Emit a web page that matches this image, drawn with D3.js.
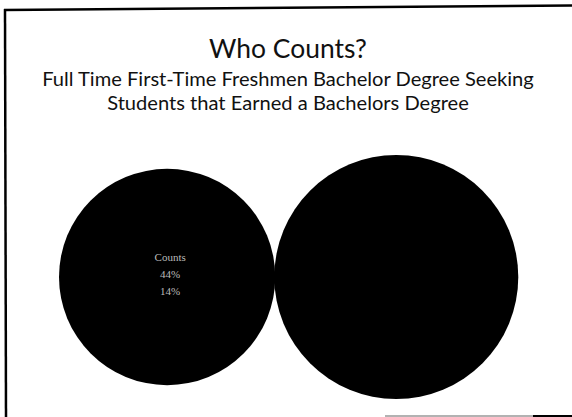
<!DOCTYPE html>
<html>
<head>
<meta charset="utf-8">
<script src="https://cdn.jsdelivr.net/npm/d3@7"></script>
<style>
  html, body { margin: 0; padding: 0; background: #fff; }
  svg { display: block; }
</style>
</head>
<body>
<script>
// slide text
const title = 'Who Counts?';
const subtitle = [
  'Full Time First-Time Freshmen Bachelor Degree Seeking',
  'Students that Earned a Bachelors Degree'
];

// groups shown as circles, sized by share of students (%)
const groups = ['Counts', 'Not counted'];
const shares = [44, 56];
const labels = [['Counts', '44%', '14%'], []];

const width = 572, height = 417;
const font = 'Lato, "Open Sans", sans-serif';

const svg = d3.select(document.body).append('svg')
  .attr('width', width)
  .attr('height', height);

// slide frame (scanned, slightly skewed)
const frame = svg.append('g')
  .attr('fill', 'none');
frame.append('line')
  .attr('x1', 5).attr('y1', 9).attr('x2', 6).attr('y2', height)
  .attr('stroke', '#000').attr('stroke-width', 2.5);
frame.append('line')
  .attr('x1', 4).attr('y1', 10).attr('x2', width).attr('y2', 5.5)
  .attr('stroke', '#000').attr('stroke-width', 2.5);
frame.append('line')
  .attr('x1', 385).attr('y1', 416).attr('x2', 533).attr('y2', 416)
  .attr('stroke', '#999').attr('stroke-width', 1.5);
frame.append('line')
  .attr('x1', 533).attr('y1', 416).attr('x2', width).attr('y2', 416)
  .attr('stroke', '#000').attr('stroke-width', 2);

// fit a text element to a target width
function fit(sel, target) {
  const w = sel.node().getComputedTextLength();
  const fs = parseFloat(sel.attr('font-size'));
  sel.attr('font-size', fs * target / w);
  return fs * target / w;
}

const cx = 288;
svg.append('text')
  .attr('x', cx).attr('y', 58)
  .attr('text-anchor', 'middle')
  .attr('font-family', font)
  .attr('font-size', 26)
  .attr('fill', '#111')
  .text(title)
  .call(fit, 158);

const subs = svg.selectAll('.sub')
  .data(subtitle)
  .enter().append('text')
  .attr('class', 'sub')
  .attr('x', cx)
  .attr('y', (d, i) => 86 + i * 24)
  .attr('text-anchor', 'middle')
  .attr('font-family', font)
  .attr('font-size', 18)
  .attr('fill', '#111')
  .text(d => d);

// same size for both lines, set by the first line's width
const subSize = fit(d3.select(subs.nodes()[0]), 492);
subs.attr('font-size', subSize);

// circles: area proportional to share
const r = d3.scaleSqrt()
  .domain([0, d3.max(shares)])
  .range([0, 122]);

const left = 59, cy = 277;
const nodes = groups.map((g, i) => ({ name: g, value: shares[i], lines: labels[i] }));
let xPos = left;
nodes.forEach(n => {
  n.r = r(n.value);
  n.x = xPos + n.r;
  xPos = n.x + n.r - 1;
});

const node = svg.selectAll('.group')
  .data(nodes)
  .enter().append('g')
  .attr('class', 'group')
  .attr('transform', d => `translate(${d.x},${cy})`);

node.append('circle')
  .attr('r', d => d.r)
  .attr('fill', '#000');

node.selectAll('text')
  .data(d => d.lines)
  .enter().append('text')
  .attr('x', 3)
  .attr('y', (d, i) => -16 + i * 17)
  .attr('text-anchor', 'middle')
  .attr('font-family', '"Liberation Serif", serif')
  .attr('font-size', 11)
  .attr('fill', '#bbb')
  .text(d => d);
</script>
</body>
</html>
